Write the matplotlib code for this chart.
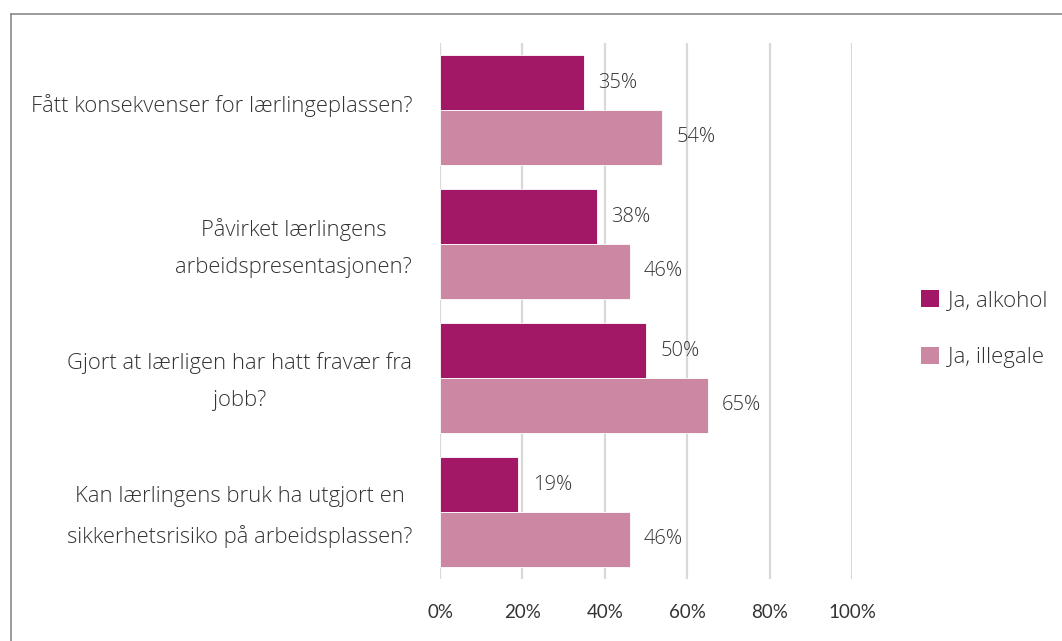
import matplotlib.pyplot as plt
import matplotlib.transforms as mtransforms
from matplotlib.lines import Line2D
from matplotlib.patches import Patch

# ------------------------------------------------------------------
# Data
# ------------------------------------------------------------------
categories = [
    "Fått konsekvenser for lærlingeplassen?",
    "Påvirket lærlingens\narbeidspresentasjonen?",
    "Gjort at lærligen har hatt fravær fra\njobb?",
    "Kan lærlingens bruk ha utgjort en\nsikkerhetsrisiko på arbeidsplassen?",
]
alkohol = [35, 38, 50, 19]
illegale = [54, 46, 65, 46]
series_names = ["Ja, alkohol", "Ja, illegale"]
x_ticks = [0, 20, 40, 60, 80, 100]

col_alk = "#a21866"
col_ill = "#cc87a3"
txt = "#333333"

# ------------------------------------------------------------------
# Figure
# ------------------------------------------------------------------
fig = plt.figure(figsize=(10.62, 6.41), dpi=100)
ax = fig.add_axes([440 / 1062, 1 - 579 / 641, 412 / 1062, 536 / 641])

bar_h = 0.41
off = 0.205
pos = list(range(len(categories)))

b1 = ax.barh([p - off for p in pos], alkohol, height=bar_h, color=col_alk,
             edgecolor="white", linewidth=0.6, zorder=3)
b2 = ax.barh([p + off for p in pos], illegale, height=bar_h, color=col_ill,
             edgecolor="white", linewidth=0.6, zorder=3)

for bars, vals in [(b1, alkohol), (b2, illegale)]:
    for rect, v in zip(bars, vals):
        ax.text(v + 3.5, rect.get_y() + rect.get_height() / 2, f"{v}%",
                va="center", ha="left", fontsize=14.5, color=txt,
                family="Open Sans", weight="light")

ax.set_xlim(0, 100)
ax.set_ylim(len(categories) - 0.5, -0.5)

ax.set_xticks(x_ticks)
ax.set_xticklabels([f"{t}%" for t in x_ticks], fontsize=13.5, color=txt,
                   family="Lato", weight="normal")
ax.set_yticks(pos)
ax.set_yticklabels(categories, fontsize=15.8, color=txt, family="Open Sans",
                   weight="light", multialignment="center", linespacing=2.0)
ax.tick_params(axis="both", length=0)
ax.tick_params(axis="y", pad=20)
ax.tick_params(axis="x", pad=18)

# nudge category labels up a little
shift = mtransforms.ScaledTranslation(0, 5 / 72, fig.dpi_scale_trans)
for lab in ax.get_yticklabels():
    lab.set_transform(lab.get_transform() + shift)

ax.grid(axis="x", color="#d9d9d9", linewidth=1.6, zorder=0)
for s in ax.spines.values():
    s.set_visible(False)

# legend
handles = [Patch(facecolor=col_alk), Patch(facecolor=col_ill)]
fig.legend(handles, series_names, loc="center left",
           bbox_to_anchor=(901 / 1062, 1 - 329 / 641), frameon=False,
           prop={"family": "Open Sans", "weight": "light", "size": 16},
           labelcolor=txt, handlelength=0.8, handleheight=0.8,
           handletextpad=0.4, labelspacing=1.6)

# outer chart frame
fig.add_artist(Line2D([11 / 1062, 11 / 1062], [0, 1 - 14 / 641],
                      color="#8a8a8a", linewidth=1.2, transform=fig.transFigure))
fig.add_artist(Line2D([11 / 1062, 1], [1 - 14 / 641, 1 - 14 / 641],
                      color="#8a8a8a", linewidth=1.2, transform=fig.transFigure))

fig.savefig("out.png", dpi=100)
